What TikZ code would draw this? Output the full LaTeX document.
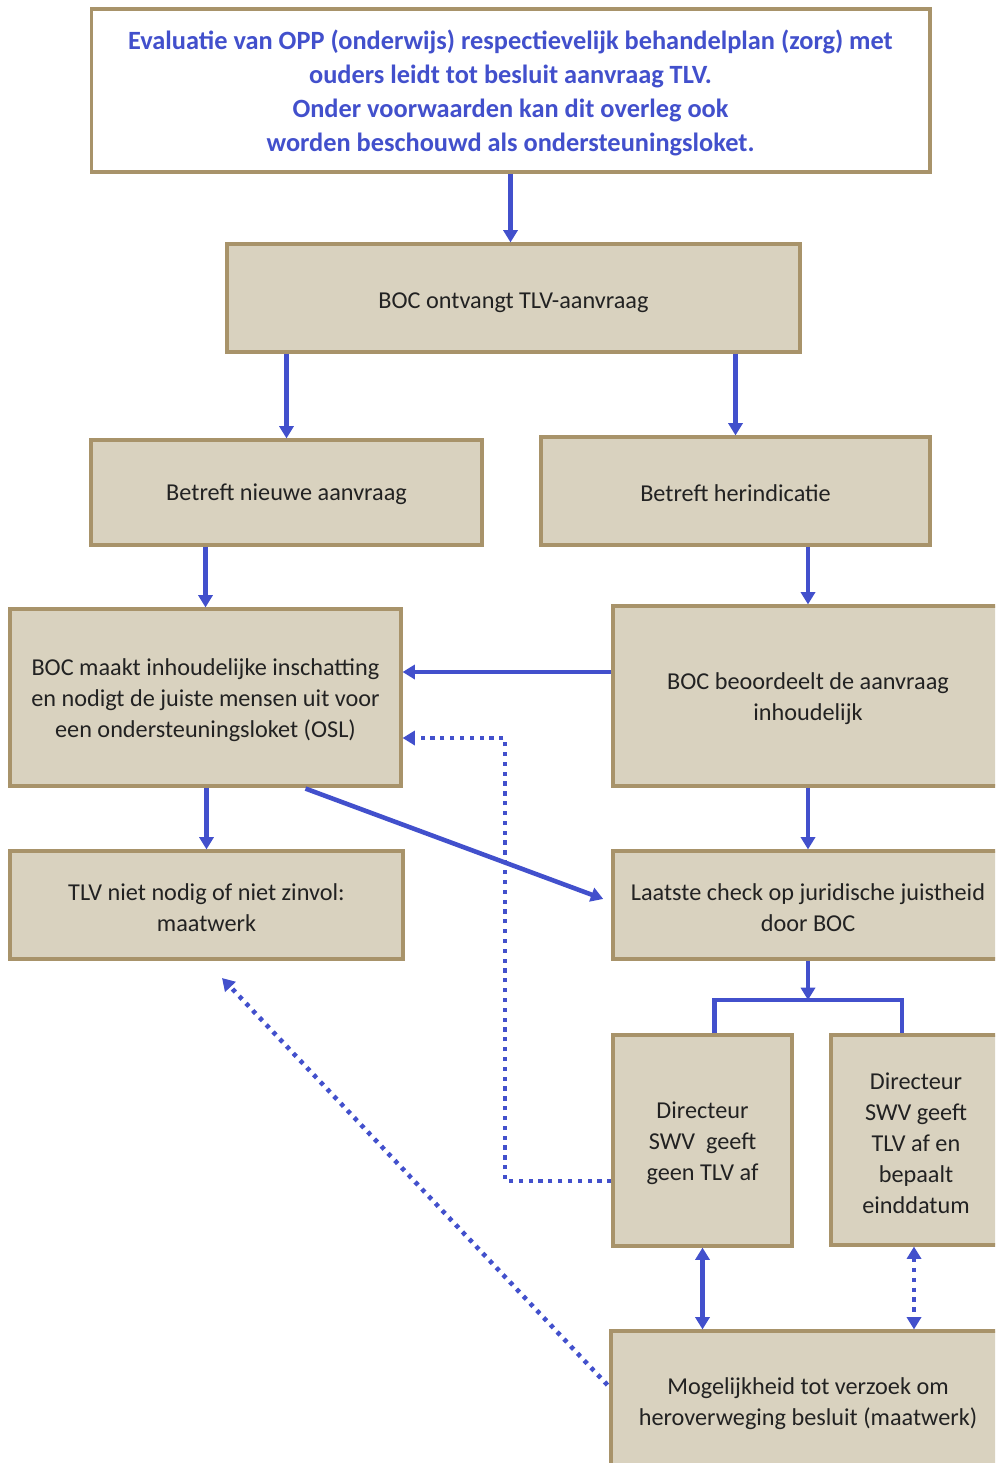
\documentclass[tikz,border=0pt]{standalone}
\usepackage{fontspec}
\setmainfont{Carlito}
\usetikzlibrary{positioning,calc,arrows.meta}
\definecolor{boxfill}{RGB}{217,210,191}
\definecolor{boxline}{RGB}{168,147,106}
\definecolor{flowblue}{RGB}{66,80,204}
\definecolor{textgray}{RGB}{34,34,34}

\begin{document}
\begin{tikzpicture}[x=0.02cm, y=-0.02cm,
	box/.style={draw=boxline, fill=boxfill, line width=1.8pt, align=center, text=textgray, inner sep=0pt, font=\fontsize{13.8}{17.6}\selectfont},
	topbox/.style={box, fill=white, text=flowblue, font=\bfseries\fontsize{15}{19.3}\selectfont},
	flow/.style={draw=flowblue, line width=2.6pt, -{Triangle[length=7pt,width=8pt]}},
	flowdot/.style={flow, dash pattern=on 2.4pt off 3.2pt},
	both/.style={draw=flowblue, line width=2.6pt, {Triangle[length=7pt,width=8pt]}-{Triangle[length=7pt,width=8pt]}},
	link/.style={draw=flowblue, line width=2.6pt}]
	\clip (0,0) rectangle (995,1463);

	% Boxes:
	\node[topbox, minimum width=16.78cm, minimum height=3.26cm] (evaluatie) at (510.5, 90.5) {\\[-5pt]Evaluatie van OPP (onderwijs) respectievelijk behandelplan (zorg) met\\ouders leidt tot besluit aanvraag TLV.\\Onder voorwaarden kan dit overleg ook\\worden beschouwd als ondersteuningsloket.};
	\node[box, minimum width=11.46cm, minimum height=2.16cm] (ontvangt) at (513.5, 298) {\rule{0pt}{14pt}BOC ontvangt TLV-aanvraag};
	\node[box, minimum width=7.82cm, minimum height=2.10cm] (nieuw) at (286.5, 492.5) {\rule{0pt}{12pt}Betreft nieuwe aanvraag};
	\node[box, minimum width=7.78cm, minimum height=2.16cm] (herindicatie) at (735.5, 491) {\rule{0pt}{12pt}Betreft herindicatie};
	\node[box, minimum width=7.82cm, minimum height=3.54cm] (inschatting) at (205.5, 697.5) {\rule{0pt}{13pt}BOC maakt inhoudelijke inschatting\\en nodigt de juiste mensen uit voor\\een ondersteuningsloket (OSL)};
	\node[box, minimum width=7.80cm, minimum height=3.60cm] (beoordeelt) at (808, 696) {\rule{0pt}{13pt}BOC beoordeelt de aanvraag\\inhoudelijk};
	\node[box, minimum width=7.86cm, minimum height=2.16cm] (maatwerk) at (206.5, 905) {\rule{0pt}{13pt}TLV niet nodig of niet zinvol:\\maatwerk};
	\node[box, minimum width=7.80cm, minimum height=2.16cm] (check) at (808, 905) {\rule{0pt}{13pt}Laatste check op juridische juistheid\\door BOC};
	\node[box, minimum width=3.58cm, minimum height=4.22cm] (geentlv) at (702.5, 1140.5) {\rule{0pt}{13pt}Directeur\\SWV\ \ geeft\\geen TLV af};
	\node[box, minimum width=3.40cm, minimum height=4.20cm] (tlvaf) at (916, 1140) {\rule{0pt}{13pt}Directeur\\SWV geeft\\TLV af en\\bepaalt\\einddatum};
	\node[box, minimum width=7.88cm, minimum height=2.80cm] (heroverweging) at (808, 1401) {\rule{0pt}{13pt}Mogelijkheid tot verzoek om\\heroverweging besluit (maatwerk)};

	\coordinate (split) at (808, 1000);
	\coordinate (bend) at (505, 738);
	\coordinate (back) at (222, 978);
	\coordinate (beoordeeltout) at ($(beoordeelt.west)+(0,-24)$);
	\coordinate (tlvafout) at ($(tlvaf.south)+(-2,0)$);

	% Arrows:
	\draw[flow] (evaluatie.south) -- (evaluatie.south |- ontvangt.north);
	\draw[flow] (ontvangt.south -| nieuw.north) -- (nieuw.north);
	\draw[flow] (ontvangt.south -| herindicatie.north) -- (herindicatie.north);
	\draw[flow] (nieuw.south -| inschatting.north) -- (inschatting.north);
	\draw[flow] (herindicatie.south -| beoordeelt.north) -- (beoordeelt.north);
	\draw[flow] (beoordeeltout) -- (beoordeeltout -| inschatting.east);
	\draw[flow] (inschatting.south -| maatwerk.north) -- (maatwerk.north);
	\draw[flow] (beoordeelt.south) -- (check.north);
	\draw[flow, shorten >=5pt] ($(inschatting.south)+(100,1)$) -- ($(check.west)+(0,-3)$);
	\draw[flow] (check.south) -- (split);
	\draw[link] ($(geentlv.north)+(12,0)$) |- (split) -| ($(tlvaf.north)+(-14,0)$);
	\draw[flowdot] ($(geentlv.west)+(0,40.5)$) -| (bend) -- (bend -| inschatting.east);
	\draw[both] (geentlv.south) -- (geentlv.south |- heroverweging.north);
	\draw[both, dash pattern=on 2.4pt off 3.2pt] (tlvafout) -- (tlvafout |- heroverweging.north);
	\draw[flowdot] ($(heroverweging.west)+(-2,-16)$) -- (back);

\end{tikzpicture}
\end{document}
